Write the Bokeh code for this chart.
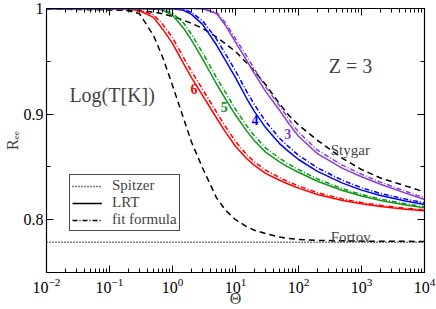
from bokeh.plotting import figure
from bokeh.models import (Range1d, LogAxis, LinearAxis, FixedTicker, Label,
                          Legend, LegendItem, CustomJSTickFormatter)
from bokeh.embed import file_html
from bokeh.resources import INLINE

# ---------------- data ----------------
theta = [0.01, 0.1, 0.2, 0.3, 0.5, 0.7, 1, 1.5, 2, 3, 5, 7, 10, 15, 20, 30,
         50, 70, 100, 200, 500, 1000, 2000, 5000, 10000]

fortov = [1.0, 0.9999, 0.998, 0.995, 0.9743, 0.9536, 0.9272, 0.8958, 0.8736,
          0.849, 0.8207, 0.8087, 0.800, 0.7935, 0.790, 0.7869, 0.7836, 0.7822,
          0.7813, 0.7804, 0.7800, 0.7797, 0.7796, 0.7795, 0.7794]
stygar = [0.9995, 0.9986, 0.9981, 0.9977, 0.9967, 0.9949, 0.9925, 0.9888,
          0.986, 0.9813, 0.9729, 0.9664, 0.9593, 0.9486, 0.9407, 0.928,
          0.9098, 0.899, 0.8897, 0.8752, 0.858, 0.8475, 0.8395, 0.8320, 0.8262]

lrt_6 = [1.0, 1.0, 0.9995, 0.9979, 0.9916, 0.9804, 0.967, 0.9477, 0.9346,
         0.9178, 0.8963, 0.8827, 0.8696, 0.8579, 0.8514, 0.8439, 0.8374,
         0.8336, 0.8299, 0.8238, 0.8182, 0.8150, 0.8126, 0.8100, 0.8084]
lrt_5 = [1.0, 1.0, 1.0, 1.0, 0.9995, 0.9986, 0.9935, 0.9813, 0.9701, 0.9523,
         0.9285, 0.914, 0.8991, 0.8841, 0.8748, 0.864, 0.8547, 0.8495, 0.8449,
         0.8364, 0.8276, 0.8224, 0.8182, 0.814, 0.8112]
lrt_4 = [1.0, 1.0, 1.0, 1.0, 1.0, 1.0, 0.9998, 0.9983, 0.9944, 0.985, 0.9654,
         0.9505, 0.9346, 0.915, 0.9023, 0.8872, 0.8721, 0.8645, 0.857,
         0.8458, 0.8346, 0.828, 0.8229, 0.8178, 0.8145]
lrt_3 = [1.0, 1.0, 1.0, 1.0, 1.0, 1.0, 1.0, 1.0, 1.0, 0.9998, 0.9953, 0.9836,
         0.9682, 0.9509, 0.9383, 0.9215, 0.9037, 0.8911, 0.879, 0.8626,
         0.8486, 0.8407, 0.8336, 0.8252, 0.8192]

fit_6 = [1.0, 1.0, 0.9997, 0.9986, 0.9940, 0.9850, 0.9725, 0.9535, 0.9405,
         0.9235, 0.9019, 0.8878, 0.8742, 0.8616, 0.8548, 0.8469, 0.8399,
         0.8358, 0.8319, 0.8256, 0.8197, 0.8162, 0.8136, 0.8109, 0.8094]
fit_5 = [1.0, 1.0, 1.0, 1.0, 0.9997, 0.9992, 0.9956, 0.9863, 0.9756, 0.9583,
         0.9345, 0.920, 0.9046, 0.8891, 0.8793, 0.868, 0.8582, 0.8525, 0.8475,
         0.8386, 0.8293, 0.8239, 0.8195, 0.8151, 0.8122]
fit_4 = [1.0, 1.0, 1.0, 1.0, 1.0, 1.0, 0.9999, 0.999, 0.9962, 0.9885, 0.971,
         0.9565, 0.941, 0.9215, 0.9089, 0.8932, 0.8771, 0.869, 0.861, 0.8491,
         0.8373, 0.8302, 0.8249, 0.8195, 0.8159]
fit_3 = [1.0, 1.0, 1.0, 1.0, 1.0, 1.0, 1.0, 1.0, 1.0, 1.0, 0.9965, 0.986,
         0.9715, 0.955, 0.9425, 0.9258, 0.9079, 0.8953, 0.8829, 0.8659,
         0.8514, 0.843, 0.8356, 0.8269, 0.8206]

spitzer_theta = [0.01, 10000]
spitzer = [0.7786, 0.7786]

x_major = [1e-2, 1e-1, 1e0, 1e1, 1e2, 1e3, 1e4]
x_minor = [m * 10.0 ** e for e in range(-2, 4) for m in range(2, 10)]
y_major = [0.8, 0.9, 1.0]
y_minor = [0.75, 0.85, 0.95]

curve_labels = ["6", "5", "4", "3"]
curve_colors = ["#ff0000", "#10961a", "#0000ff", "#8a3fcf"]
label_theta = [2.2, 6.6, 20.4, 67.8]
label_r = [0.9234, 0.9065, 0.8944, 0.8813]

FONT = "Liberation Serif"

# ---------------- figure ----------------
p = figure(width=436, height=309, x_axis_type="log",
           x_range=Range1d(0.01, 10000), y_range=Range1d(0.75, 1.0),
           output_backend="svg", toolbar_location=None,
           min_border_left=45, min_border_right=12, min_border_top=8,
           min_border_bottom=37)
p.grid.visible = False
p.outline_line_color = "black"
p.background_fill_color = "white"
p.border_fill_color = "white"

xt = FixedTicker(ticks=x_major, minor_ticks=x_minor)
yt = FixedTicker(ticks=y_major, minor_ticks=y_minor)

def style_axis(ax):
    ax.axis_line_color = "black"
    ax.axis_line_width = 1.2
    ax.major_tick_in = 7
    ax.major_tick_out = 0
    ax.minor_tick_in = 4
    ax.minor_tick_out = 0
    ax.major_tick_line_color = "black"
    ax.minor_tick_line_color = "black"

xa = p.xaxis[0]
xa.ticker = xt
style_axis(xa)
xa.major_label_text_font = FONT
xa.major_label_text_font_size = "16px"
xa.major_label_text_color = "black"
xa.major_label_standoff = 5
xa.axis_label = "Θ"
xa.axis_label_text_font = FONT
xa.axis_label_text_font_style = "normal"
xa.axis_label_text_font_size = "16px"
xa.axis_label_standoff = -6

ya = p.yaxis[0]
ya.ticker = yt
style_axis(ya)
ya.formatter = CustomJSTickFormatter(code="return tick > 0.99 ? '1' : tick.toFixed(1);")
ya.major_label_text_font = FONT
ya.major_label_text_font_size = "16px"
ya.major_label_text_color = "black"
ya.major_label_standoff = 3
ya.axis_label = "Rₑₑ"
ya.axis_label_text_font = FONT
ya.axis_label_text_font_style = "normal"
ya.axis_label_text_font_size = "16px"
ya.axis_label_standoff = 0

top = LogAxis(ticker=xt)
style_axis(top)
top.major_label_text_font_size = "1px"
top.major_label_text_alpha = 0
top.major_label_standoff = 0
p.add_layout(top, "above")

right = LinearAxis(ticker=yt)
style_axis(right)
right.major_label_text_font_size = "1px"
right.major_label_text_alpha = 0
right.major_label_standoff = 0
p.add_layout(right, "right")

# ---------------- lines ----------------
r_sp = p.line(spitzer_theta, spitzer, line_color="black", line_width=1.4,
              line_dash="1 2")
p.line(theta, fortov, line_color="black", line_width=1.5, line_dash="6 4")
p.line(theta, stygar, line_color="black", line_width=1.5, line_dash="6 4")

for lrt, fit, col in zip([lrt_6, lrt_5, lrt_4, lrt_3],
                         [fit_6, fit_5, fit_4, fit_3], curve_colors):
    p.line(theta, lrt, line_color=col, line_width=1.5)
    p.line(theta, fit, line_color=col, line_width=1.5, line_dash="5 2 1 2")

# legend-only renderers (kept outside the visible range)
r_lrt = p.line([1e5, 1e6], [0.5, 0.5], line_color="black", line_width=1.5)
r_fit = p.line([1e5, 1e6], [0.5, 0.5], line_color="black", line_width=1.5,
               line_dash="5 2 1 2")

legend = Legend(items=[LegendItem(label="Spitzer", renderers=[r_sp]),
                       LegendItem(label="LRT", renderers=[r_lrt]),
                       LegendItem(label="fit formula", renderers=[r_fit])],
                location=(23, 41), padding=2, spacing=-2, margin=0,
                glyph_width=30, glyph_height=14, label_height=14,
                label_standoff=10, label_text_font=FONT,
                label_text_font_size="15px",
                border_line_color="black", border_line_alpha=0.7,
                border_line_width=1, background_fill_color="white",
                background_fill_alpha=1.0)
p.add_layout(legend)

# ---------------- texts ----------------
p.add_layout(Label(x=0.0231, y=0.9178, text="Log(T[K])", text_font=FONT,
                   text_font_size="20px", text_baseline="alphabetic"))
p.add_layout(Label(x=302, y=0.9458, text="Z = 3", text_font=FONT,
                   text_font_size="20px", text_baseline="alphabetic"))
p.add_layout(Label(x=325, y=0.8664, text="Stygar", text_font=FONT,
                   text_font_size="15px", text_baseline="alphabetic"))
p.add_layout(Label(x=325, y=0.7832, text="Fortov", text_font=FONT,
                   text_font_size="15px", text_baseline="alphabetic"))

for t, xx, yy, col in zip(curve_labels, label_theta, label_r, curve_colors):
    p.add_layout(Label(x=xx, y=yy, text=t, text_font=FONT, text_font_size="14px",
                       text_font_style="bold", text_color=col,
                       text_align="center", text_baseline="middle"))

open("out.html", "w").write(file_html(p, INLINE))
